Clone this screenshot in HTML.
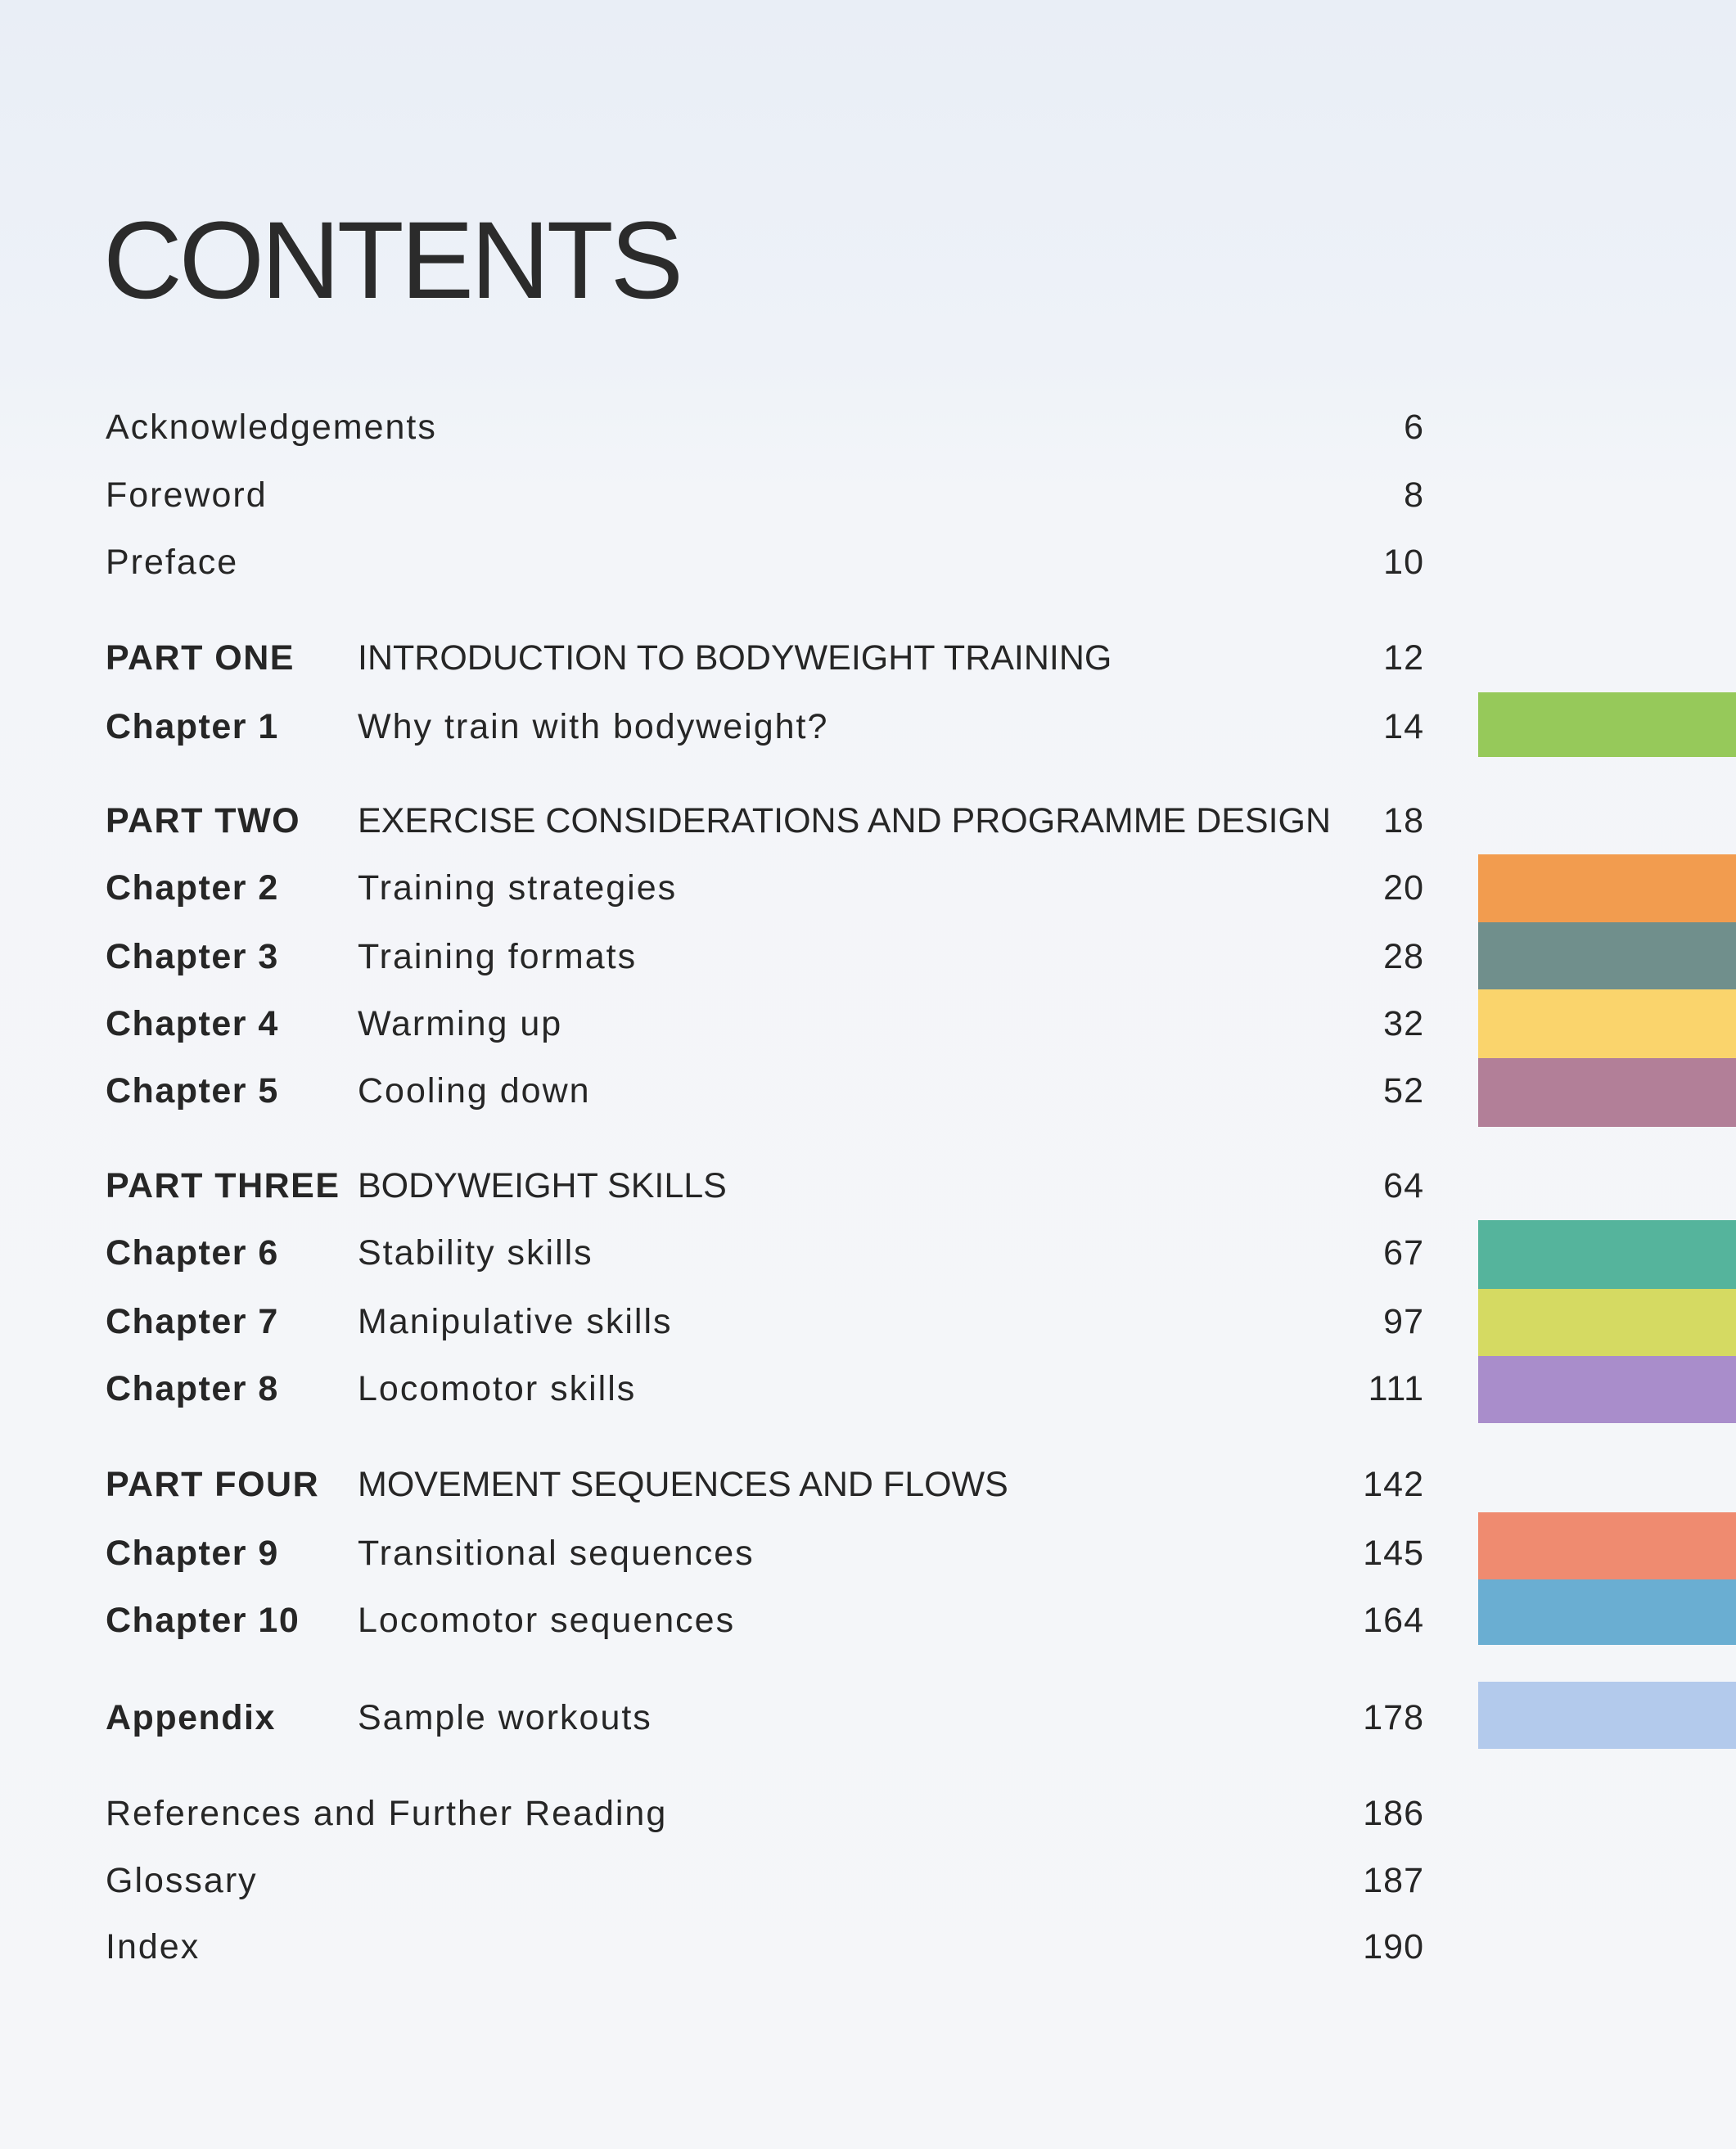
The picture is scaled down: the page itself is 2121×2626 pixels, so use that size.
<!DOCTYPE html>
<html><head><meta charset="utf-8"><style>
html,body{margin:0;padding:0}
body{width:2121px;height:2626px;position:relative;overflow:hidden;
background:linear-gradient(180deg,#e9eef6 0px,#eef2f8 430px,#f3f5f9 600px,#f5f6f9 2626px);
font-family:"Liberation Sans",sans-serif;color:#262626}
.t{position:absolute;left:126px;top:252px;font-size:134px;letter-spacing:-4px;color:#2b2b2b;line-height:1}
.r{position:absolute;left:0;width:1740px;height:60px;font-size:43px;line-height:60px}
.a{position:absolute;left:129px;letter-spacing:2px}
.b{position:absolute;left:437px;letter-spacing:2px}
.b.u{letter-spacing:0}
.n{position:absolute;right:0;text-align:right;letter-spacing:1px}
.bold{font-weight:bold;letter-spacing:1.5px}
.bar{position:absolute;left:1806px;width:315px}
</style></head><body>
<div class="t">CONTENTS</div>

<div class="r" style="top:492px"><span class="a">Acknowledgements</span><span class="n">6</span></div>
<div class="r" style="top:575px"><span class="a">Foreword</span><span class="n">8</span></div>
<div class="r" style="top:657px"><span class="a">Preface</span><span class="n">10</span></div>

<div class="r" style="top:774px"><span class="a bold">PART ONE</span><span class="b u">INTRODUCTION TO BODYWEIGHT TRAINING</span><span class="n">12</span></div>
<div class="r" style="top:858px"><span class="a bold">Chapter 1</span><span class="b">Why train with bodyweight?</span><span class="n">14</span></div>

<div class="r" style="top:973px"><span class="a bold">PART TWO</span><span class="b u">EXERCISE CONSIDERATIONS AND PROGRAMME DESIGN</span><span class="n">18</span></div>
<div class="r" style="top:1055px"><span class="a bold">Chapter 2</span><span class="b">Training strategies</span><span class="n">20</span></div>
<div class="r" style="top:1139px"><span class="a bold">Chapter 3</span><span class="b">Training formats</span><span class="n">28</span></div>
<div class="r" style="top:1221px"><span class="a bold">Chapter 4</span><span class="b">Warming up</span><span class="n">32</span></div>
<div class="r" style="top:1303px"><span class="a bold">Chapter 5</span><span class="b">Cooling down</span><span class="n">52</span></div>

<div class="r" style="top:1419px"><span class="a bold">PART THREE</span><span class="b u">BODYWEIGHT SKILLS</span><span class="n">64</span></div>
<div class="r" style="top:1501px"><span class="a bold">Chapter 6</span><span class="b">Stability skills</span><span class="n">67</span></div>
<div class="r" style="top:1585px"><span class="a bold">Chapter 7</span><span class="b">Manipulative skills</span><span class="n">97</span></div>
<div class="r" style="top:1667px"><span class="a bold">Chapter 8</span><span class="b">Locomotor skills</span><span class="n">111</span></div>

<div class="r" style="top:1784px"><span class="a bold">PART FOUR</span><span class="b u">MOVEMENT SEQUENCES AND FLOWS</span><span class="n">142</span></div>
<div class="r" style="top:1868px"><span class="a bold">Chapter 9</span><span class="b">Transitional sequences</span><span class="n">145</span></div>
<div class="r" style="top:1950px"><span class="a bold">Chapter 10</span><span class="b">Locomotor sequences</span><span class="n">164</span></div>

<div class="r" style="top:2069px"><span class="a bold">Appendix</span><span class="b">Sample workouts</span><span class="n">178</span></div>

<div class="r" style="top:2186px"><span class="a">References and Further Reading</span><span class="n">186</span></div>
<div class="r" style="top:2268px"><span class="a">Glossary</span><span class="n">187</span></div>
<div class="r" style="top:2349px"><span class="a">Index</span><span class="n">190</span></div>

<div class="bar" style="top:846px;height:79px;background:#96c95a"></div>
<div class="bar" style="top:1044px;height:83px;background:#f29c4f"></div>
<div class="bar" style="top:1127px;height:82px;background:#708f8c"></div>
<div class="bar" style="top:1209px;height:84px;background:#fad46c"></div>
<div class="bar" style="top:1293px;height:84px;background:#b27f98"></div>
<div class="bar" style="top:1491px;height:84px;background:#55b49c"></div>
<div class="bar" style="top:1575px;height:82px;background:#d5da62"></div>
<div class="bar" style="top:1657px;height:82px;background:#a98dcb"></div>
<div class="bar" style="top:1848px;height:82px;background:#ef8b70"></div>
<div class="bar" style="top:1930px;height:80px;background:#6aaed2"></div>
<div class="bar" style="top:2055px;height:82px;background:#b3caec"></div>
</body></html>
